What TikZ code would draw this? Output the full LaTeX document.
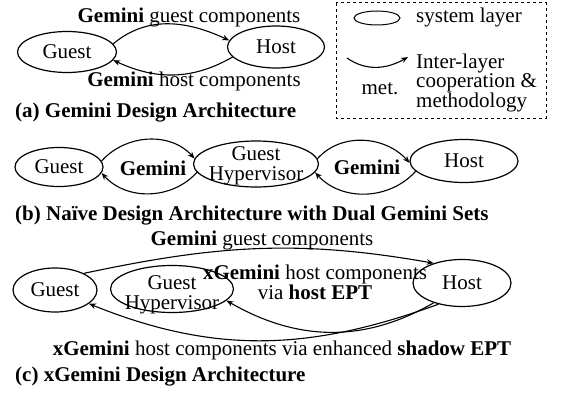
\documentclass[tikz,border=0pt]{standalone}
\usepackage{fontspec}
\setmainfont{Liberation Serif}
\usetikzlibrary{arrows.meta, shapes.geometric, positioning}
\tikzset{>={Stealth[length=7pt,width=5.5pt]}}
\tikzset{
  layer/.style={draw, ellipse, line width=1.2pt, inner sep=0pt},
  link/.style={->, line width=1.1pt},
  lbl/.style={inner sep=0pt},
  twoline/.style={inner sep=0pt, align=center, font=\fontsize{21}{20}\selectfont},
  caption/.style={anchor=west, inner sep=0pt}
}

\begin{document}
\begin{tikzpicture}[x=1pt, y=-1pt, font=\fontsize{21}{20}\selectfont]
\useasboundingbox (0,0) rectangle (569,404);
% (a) Gemini
\node[layer, minimum width=99, minimum height=41] (guestA) at (67,52) {Guest};
\node[layer, minimum width=97, minimum height=42] (hostA) at (276,47) {Host};
\draw[link] (guestA.10) to[out=40,in=155] (hostA.172);
\draw[link] (hostA.193) to[out=210,in=-25] (guestA.350);
\node[lbl] (gemGuestA) at (189,17) {\textbf{Gemini} guest components};
\node[lbl] (gemHostA) at (194,81) {\textbf{Gemini} host components};
\node[caption] (capA) at (15,113) {\textbf{(a) Gemini Design Architecture}};
% legend
\draw[dashed, line width=1pt] (336,3) rectangle (546,118);
\node[layer, minimum width=46, minimum height=14, line width=1pt] (legLayer) at (377,18) {};
\node[lbl, anchor=west] (legLayerTxt) at (416,17) {system layer};
\coordinate (legFrom) at (347,58);
\coordinate (legTo) at (408,57);
\draw[link] (legFrom) to[out=-35,in=-150] (legTo);
\node[lbl] (legMet) at (380,89) {met.};
\node[lbl, anchor=west, align=left, font=\fontsize{21}{19}\selectfont] (legMetTxt) at (416,83) {Inter-layer\\cooperation \&\\methodology};
% (b) naive
\node[layer, minimum width=88, minimum height=39] (guestB) at (59,167) {Guest};
\node[layer, minimum width=125, minimum height=46] (hyperB) at (256,164) {};
\node[twoline] (hyperBTxt) at (256,166) {Guest\\Hypervisor};
\node[layer, minimum width=108, minimum height=43] (hostB) at (464,161) {Host};
\node[lbl] (gemB1) at (153,168) {\textbf{Gemini}};
\node[lbl] (gemB2) at (367,167) {\textbf{Gemini}};
\draw[link] (guestB.8) to[out=48,in=132] (hyperB.175);
\draw[link] (hyperB.188) to[out=228,in=-48] (guestB.352);
\draw[link] (hyperB.5) to[out=48,in=132] (hostB.182);
\draw[link] (hostB.192) to[out=228,in=-48] (hyperB.352);
\node[caption] (capB) at (15,216) {\textbf{(b) Naïve Design Architecture with Dual Gemini Sets}};
% (c) xGemini
\node[lbl] (gemGuestC) at (262,240) {\textbf{Gemini} guest components};
\node[layer, minimum width=84, minimum height=44] (guestC) at (55,290) {Guest};
\node[layer, minimum width=123, minimum height=47] (hyperC) at (172,289) {};
\node[twoline] (hyperCTxt) at (172,295) {Guest\\Hypervisor};
\node[layer, minimum width=98, minimum height=47] (hostC) at (462,283) {Host};
\node[lbl, align=center] (viaHost) at (315,282) {\textbf{xGemini} host components\\via \textbf{host EPT}};
\node[lbl] (viaShadow) at (282,350) {\textbf{xGemini} host components via enhanced \textbf{shadow EPT}};
\node[caption] (capC) at (15,377) {\textbf{(c) xGemini Design Architecture}};
\draw[link] (guestC.30) to[out=12,in=170] (hostC.145);
\draw[link] (hostC.215) to[out=210,in=-30] (hyperC.348);
\draw[link] (hostC.222) to[out=200,in=-22] (guestC.-22);
\end{tikzpicture}
\end{document}
